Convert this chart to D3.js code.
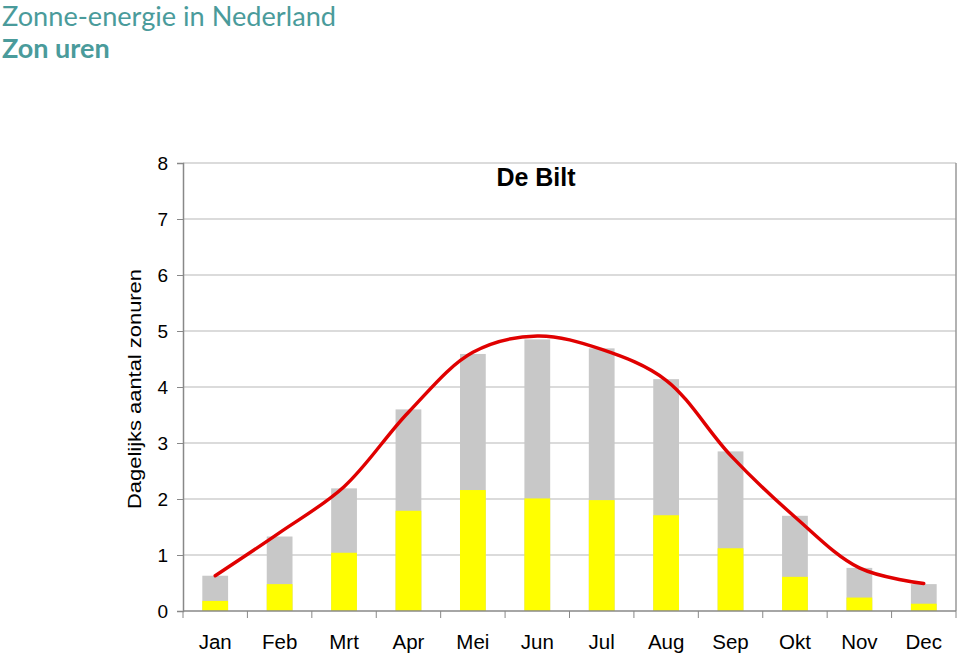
<!DOCTYPE html>
<html>
<head>
<meta charset="utf-8">
<script src="https://cdn.jsdelivr.net/npm/d3@7"></script>
<style>
  body { margin: 0; background: #fff; }
  svg { display: block; }
</style>
</head>
<body>
<div id="chart"></div>
<script>
// Monthly data, De Bilt (hours per day)
const months = ['Jan', 'Feb', 'Mrt', 'Apr', 'Mei', 'Jun', 'Jul', 'Aug', 'Sep', 'Okt', 'Nov', 'Dec'];
const totalHours = [0.63, 1.33, 2.19, 3.60, 4.59, 4.85, 4.69, 4.14, 2.85, 1.70, 0.77, 0.48];
const directHours = [0.18, 0.48, 1.04, 1.79, 2.16, 2.01, 1.98, 1.71, 1.12, 0.61, 0.24, 0.13];
const trendHours = [0.63, 1.40, 2.22, 3.55, 4.62, 4.91, 4.67, 4.12, 2.78, 1.68, 0.77, 0.49];
const yTicks = [0, 1, 2, 3, 4, 5, 6, 7, 8];

const width = 960, height = 654;
const margin = { left: 183, right: 4, top: 163, bottom: 43 };
const arial = 'Arial, "Liberation Sans", sans-serif';

const svg = d3.select('#chart').append('svg')
  .attr('width', width)
  .attr('height', height);

// Header
svg.append('text')
  .attr('x', 2).attr('y', 26)
  .attr('fill', '#4a9b9b')
  .attr('font-family', 'Lato, sans-serif')
  .attr('font-size', '26px')
  .attr('textLength', 334)
  .attr('lengthAdjust', 'spacingAndGlyphs')
  .text('Zonne-energie in Nederland');

svg.append('text')
  .attr('x', 2).attr('y', 58)
  .attr('fill', '#4a9b9b')
  .attr('font-family', 'Lato, sans-serif')
  .attr('font-weight', 'bold')
  .attr('font-size', '27px')
  .text('Zon uren');

const x = d3.scaleBand()
  .domain(months)
  .range([margin.left, width - margin.right])
  .paddingInner(0.6)
  .paddingOuter(0.3);

const y = d3.scaleLinear()
  .domain([0, 8])
  .range([height - margin.bottom, margin.top]);

// Gridlines
svg.append('g')
  .selectAll('line')
  .data(yTicks.slice(1))
  .join('line')
  .attr('x1', margin.left).attr('x2', width - margin.right)
  .attr('y1', d => y(d)).attr('y2', d => y(d))
  .attr('stroke', '#b8b8b8').attr('stroke-width', 1.2);

// Right border
svg.append('line')
  .attr('x1', width - margin.right).attr('x2', width - margin.right)
  .attr('y1', y(8)).attr('y2', y(0))
  .attr('stroke', '#999').attr('stroke-width', 1.5);

// Bars: total (gray) with direct part (yellow) in front
svg.append('g')
  .selectAll('rect')
  .data(months)
  .join('rect')
  .attr('x', d => x(d))
  .attr('width', x.bandwidth())
  .attr('y', (d, i) => y(totalHours[i]))
  .attr('height', (d, i) => y(0) - y(totalHours[i]))
  .attr('fill', '#c8c8c8');

svg.append('g')
  .selectAll('rect')
  .data(months)
  .join('rect')
  .attr('x', d => x(d))
  .attr('width', x.bandwidth())
  .attr('y', (d, i) => y(directHours[i]))
  .attr('height', (d, i) => y(0) - y(directHours[i]))
  .attr('fill', '#ffff00');

// Smoothed trend line
const line = d3.line()
  .x((d, i) => x(months[i]) + x.bandwidth() / 2)
  .y(d => y(d))
  .curve(d3.curveCatmullRom.alpha(0.5));

svg.append('path')
  .datum(trendHours)
  .attr('d', line)
  .attr('fill', 'none')
  .attr('stroke', '#e00000')
  .attr('stroke-width', 3.4)
  .attr('stroke-linecap', 'round');

// Y axis
const yAxis = svg.append('g')
  .attr('transform', `translate(${margin.left},0)`)
  .call(d3.axisLeft(y).tickValues(yTicks).tickSize(6).tickPadding(9));
yAxis.select('.domain').attr('stroke', '#888').attr('stroke-width', 1.5);
yAxis.selectAll('.tick line').attr('stroke', '#888');
yAxis.selectAll('.tick text')
  .attr('font-family', arial)
  .attr('font-size', '19px')
  .attr('fill', '#000');

// X axis: ticks between categories
const xAxisG = svg.append('g')
  .attr('transform', `translate(0,${y(0)})`);
xAxisG.append('line')
  .attr('x1', margin.left).attr('x2', width - margin.right)
  .attr('stroke', '#888').attr('stroke-width', 1.5);
const step = x.step();
xAxisG.selectAll('line.tick')
  .data(d3.range(months.length + 1))
  .join('line')
  .attr('class', 'tick')
  .attr('x1', i => margin.left + i * step)
  .attr('x2', i => margin.left + i * step)
  .attr('y1', 0).attr('y2', 7)
  .attr('stroke', '#888');
xAxisG.selectAll('text')
  .data(months)
  .join('text')
  .attr('x', d => x(d) + x.bandwidth() / 2)
  .attr('y', 38)
  .attr('text-anchor', 'middle')
  .attr('font-family', arial)
  .attr('font-size', '20.5px')
  .attr('fill', '#000')
  .text(d => d);

// Y axis title (stretched along its length like the original)
svg.append('text')
  .attr('transform', `translate(141,${(y(2) + y(6)) / 2 + 2}) rotate(-90)`)
  .attr('text-anchor', 'middle')
  .attr('font-family', arial)
  .attr('font-size', '18px')
  .attr('textLength', 240)
  .attr('lengthAdjust', 'spacingAndGlyphs')
  .attr('fill', '#000')
  .text('Dagelijks aantal zonuren');

// Chart title
svg.append('text')
  .attr('x', 536).attr('y', 186)
  .attr('text-anchor', 'middle')
  .attr('font-family', arial)
  .attr('font-weight', 'bold')
  .attr('font-size', '25px')
  .attr('fill', '#000')
  .text('De Bilt');
</script>
</body>
</html>
